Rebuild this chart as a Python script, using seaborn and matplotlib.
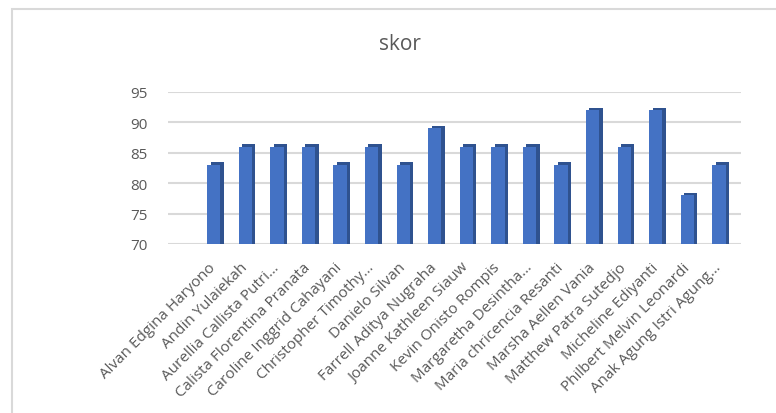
import pandas as pd
import seaborn as sns
import matplotlib.pyplot as plt
from matplotlib.patches import Rectangle
from matplotlib.transforms import offset_copy

names = [
    'Alvan Edgina Haryono', 'Andin Yulaiekah', 'Aurellia Callista Putri…',
    'Calista Florentina Pranata', 'Caroline Inggrid Cahayani', 'Christopher Timothy…',
    'Danielo Silvan', 'Farrell Aditya Nugraha', 'Joanne Kathleen Siauw',
    'Kevin Onisto Rompis', 'Margaretha Desintha…', 'Maria chricencia Resanti',
    'Marsha Aellen Vania', 'Matthew Patra Sutedjo', 'Micheline Ediyanti',
    'Philbert Melvin Leonardi', 'Anak Agung Istri Agung…',
]
skor = [83, 86, 86, 86, 83, 86, 83, 89, 86, 86, 86, 83, 92, 86, 92, 78, 83]

df = pd.DataFrame({'nama': names, 'skor': skor})

sns.set_style('white')
plt.rcParams['font.family'] = ['Open Sans', 'DejaVu Sans']

fig = plt.figure(figsize=(7.76, 4.14), dpi=100)
ax = fig.add_axes([168 / 776, 1 - 245 / 414, (741 - 168) / 776, (245 - 93) / 414])

# dark side of the columns, nudged right/up for a 3D look
sns.barplot(data=df, x='nama', y='skor', color='#2f528f', saturation=1, width=0.42,
            linewidth=0, ax=ax)
side = list(ax.patches)
shift = offset_copy(ax.transData, fig=fig, x=3.5, y=2.5, units='dots')
for p in side:
    p.set_transform(shift)
sns.barplot(data=df, x='nama', y='skor', color='#4472c4', saturation=1, width=0.42,
            linewidth=0, ax=ax)

ax.set_ylim(70, 95)
ax.set_xlim(-1.45, 16.7)
ax.set_yticks([70, 75, 80, 85, 90, 95])
ax.yaxis.grid(True, color='#d9d9d9', linewidth=1.5)
ax.set_axisbelow(True)
for s in ax.spines.values():
    s.set_visible(False)
ax.set_xlabel('')
ax.set_ylabel('')
ax.tick_params(axis='both', length=0, colors='#595959')
ax.tick_params(axis='y', labelsize=11, pad=15)
ax.tick_params(axis='x', labelsize=11, pad=15)
for lab in ax.get_xticklabels():
    lab.set_rotation(45)
    lab.set_ha('right')
    lab.set_va('center')
    lab.set_rotation_mode('anchor')

fig.text(0.515, 1 - 45 / 414, 'skor', ha='center', va='center', fontsize=15, color='#595959')

fig.add_artist(Rectangle((12 / 776, -0.1), 1.1, 1 - 10 / 414 + 0.1, transform=fig.transFigure,
                         fill=False, edgecolor='#d9d9d9', linewidth=1.5, clip_on=False))

fig.savefig('out.png', dpi=100)
